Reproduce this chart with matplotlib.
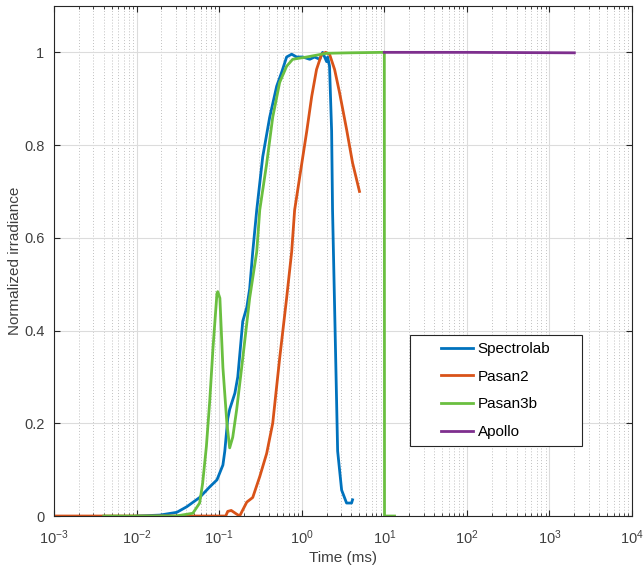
import matplotlib
matplotlib.use("Agg")
import matplotlib.pyplot as plt
from matplotlib.ticker import FixedLocator, NullFormatter, LogFormatterMathtext
from matplotlib.patches import Rectangle

plt.rcParams['font.family'] = ['Liberation Sans', 'DejaVu Sans']
plt.rcParams['mathtext.default'] = 'regular'

# Spectrolab
spec_t = [0.0101, 0.0191, 0.0307, 0.0405, 0.058, 0.077, 0.094, 0.111, 0.117, 0.127,
          0.134, 0.155, 0.168, 0.193, 0.216, 0.234, 0.255, 0.285, 0.337, 0.409,
          0.497, 0.571, 0.656, 0.755, 0.867, 1.03, 1.25, 1.43, 1.65, 1.79,
          2.0, 2.06, 2.17, 2.30, 2.36, 2.50, 2.64, 2.72, 3.04, 3.49, 4.01, 4.12]
spec_v = [0.0, 0.002, 0.008, 0.02, 0.04, 0.063, 0.078, 0.11, 0.14, 0.21,
          0.23, 0.265, 0.30, 0.42, 0.45, 0.49, 0.57, 0.66, 0.775, 0.86,
          0.927, 0.957, 0.99, 0.996, 0.99, 0.99, 0.985, 0.99, 0.985, 1.0,
          0.98, 0.99, 0.97, 0.83, 0.66, 0.45, 0.25, 0.14, 0.056, 0.028, 0.028, 0.035]

# Pasan2
pas2_t = [0.001, 0.10, 0.12, 0.127, 0.14, 0.16, 0.177, 0.216, 0.255, 0.31,
          0.376, 0.445, 0.54, 0.656, 0.755, 0.82, 1.0, 1.15, 1.32, 1.51,
          1.74, 1.95, 2.17, 2.50, 2.87, 3.49, 4.12, 5.0]
pas2_v = [0.0, 0.0, 0.0, 0.01, 0.012, 0.005, 0.0, 0.03, 0.04, 0.085,
          0.135, 0.2, 0.34, 0.47, 0.57, 0.66, 0.76, 0.83, 0.905, 0.963,
          0.996, 1.0, 0.996, 0.963, 0.913, 0.834, 0.762, 0.70]

# Pasan3b
pas3_t = [0.004, 0.03, 0.048, 0.058, 0.063, 0.07, 0.077, 0.084, 0.094, 0.096,
          0.102, 0.111, 0.124, 0.134, 0.146, 0.163, 0.193, 0.234, 0.285, 0.31,
          0.376, 0.445, 0.54, 0.656, 0.776, 1.15, 2.0, 3.79, 9.5, 10.0, 10.05, 13.3]
pas3_v = [0.0, 0.0, 0.006, 0.028, 0.07, 0.15, 0.25, 0.36, 0.48, 0.484,
          0.47, 0.32, 0.2, 0.147, 0.17, 0.23, 0.34, 0.47, 0.57, 0.66,
          0.76, 0.86, 0.935, 0.97, 0.985, 0.99, 0.998, 0.999, 1.0, 1.0, 0.0, 0.0]

# Apollo
apo_t = [10.0, 100.0, 2000.0]
apo_v = [1.0, 1.0, 0.999]

labels = ['Spectrolab', 'Pasan2', 'Pasan3b', 'Apollo']
colors = ['#0072BD', '#D95319', '#6ABF40', '#7E2F8E']
xdecades = [-3, -2, -1, 0, 1, 2, 3, 4]
yticks = [0, 0.2, 0.4, 0.6, 0.8, 1.0]
ytick_labels = ['0', '0.2', '0.4', '0.6', '0.8', '1']

fig = plt.figure(figsize=(6.43, 5.70), dpi=100)
ax = fig.add_axes([0.084, 0.0947, 0.899, 0.8948])

series = [(spec_t, spec_v), (pas2_t, pas2_v), (pas3_t, pas3_v), (apo_t, apo_v)]
for (t, v), lab, c in zip(series, labels, colors):
    ax.plot(t, v, color=c, lw=2.0, label=lab, solid_joinstyle='round')

ax.set_xscale('log')
ax.set_xlim(1e-3, 1e4)
ax.set_ylim(0, 1.1)
ax.xaxis.set_major_locator(FixedLocator([10.0 ** d for d in xdecades]))
ax.xaxis.set_major_formatter(LogFormatterMathtext())
ax.xaxis.set_minor_locator(FixedLocator([m * 10.0 ** d for d in xdecades[:-1]
                                         for m in range(2, 10)]))
ax.xaxis.set_minor_formatter(NullFormatter())
ax.yaxis.set_major_locator(FixedLocator(yticks))
ax.set_yticklabels(ytick_labels)

ax.grid(True, which='major', color='#DCDCDC', lw=0.8, ls='-')
ax.grid(True, which='minor', axis='x', color='#C0C0C0', lw=0.7, ls=(0, (1, 2)))
ax.set_axisbelow(True)

for s in ax.spines.values():
    s.set_color('#262626')
    s.set_linewidth(0.8)
ax.tick_params(which='both', direction='in', top=True, right=True, colors='#262626',
               labelcolor='#404040', labelsize=10.5)
ax.tick_params(which='major', length=4)
ax.tick_params(which='minor', length=2.5)
ax.tick_params(axis='x', which='major', pad=9)
ax.tick_params(axis='y', which='major', pad=7)

ax.set_xlabel('Time (ms)', fontsize=11, color='#404040', labelpad=3)
ax.set_ylabel('Normalized irradiance', fontsize=11, color='#404040')
ax.yaxis.set_label_coords(-0.055, 0.5)

# legend box (MATLAB style, wide padding)
ax.add_patch(Rectangle((0.616, 0.137), 0.297, 0.218, transform=ax.transAxes,
                       facecolor='white', edgecolor='#262626', lw=0.8, zorder=5))
leg = ax.legend(loc='center left', bbox_to_anchor=(0.6696, 0.246), borderaxespad=0,
                fontsize=11, frameon=False, handlelength=2.1, labelspacing=0.9,
                borderpad=0, handletextpad=0.3)
leg.set_zorder(6)
for txt in leg.get_texts():
    txt.set_color('black')

fig.savefig('out.png', dpi=100)
